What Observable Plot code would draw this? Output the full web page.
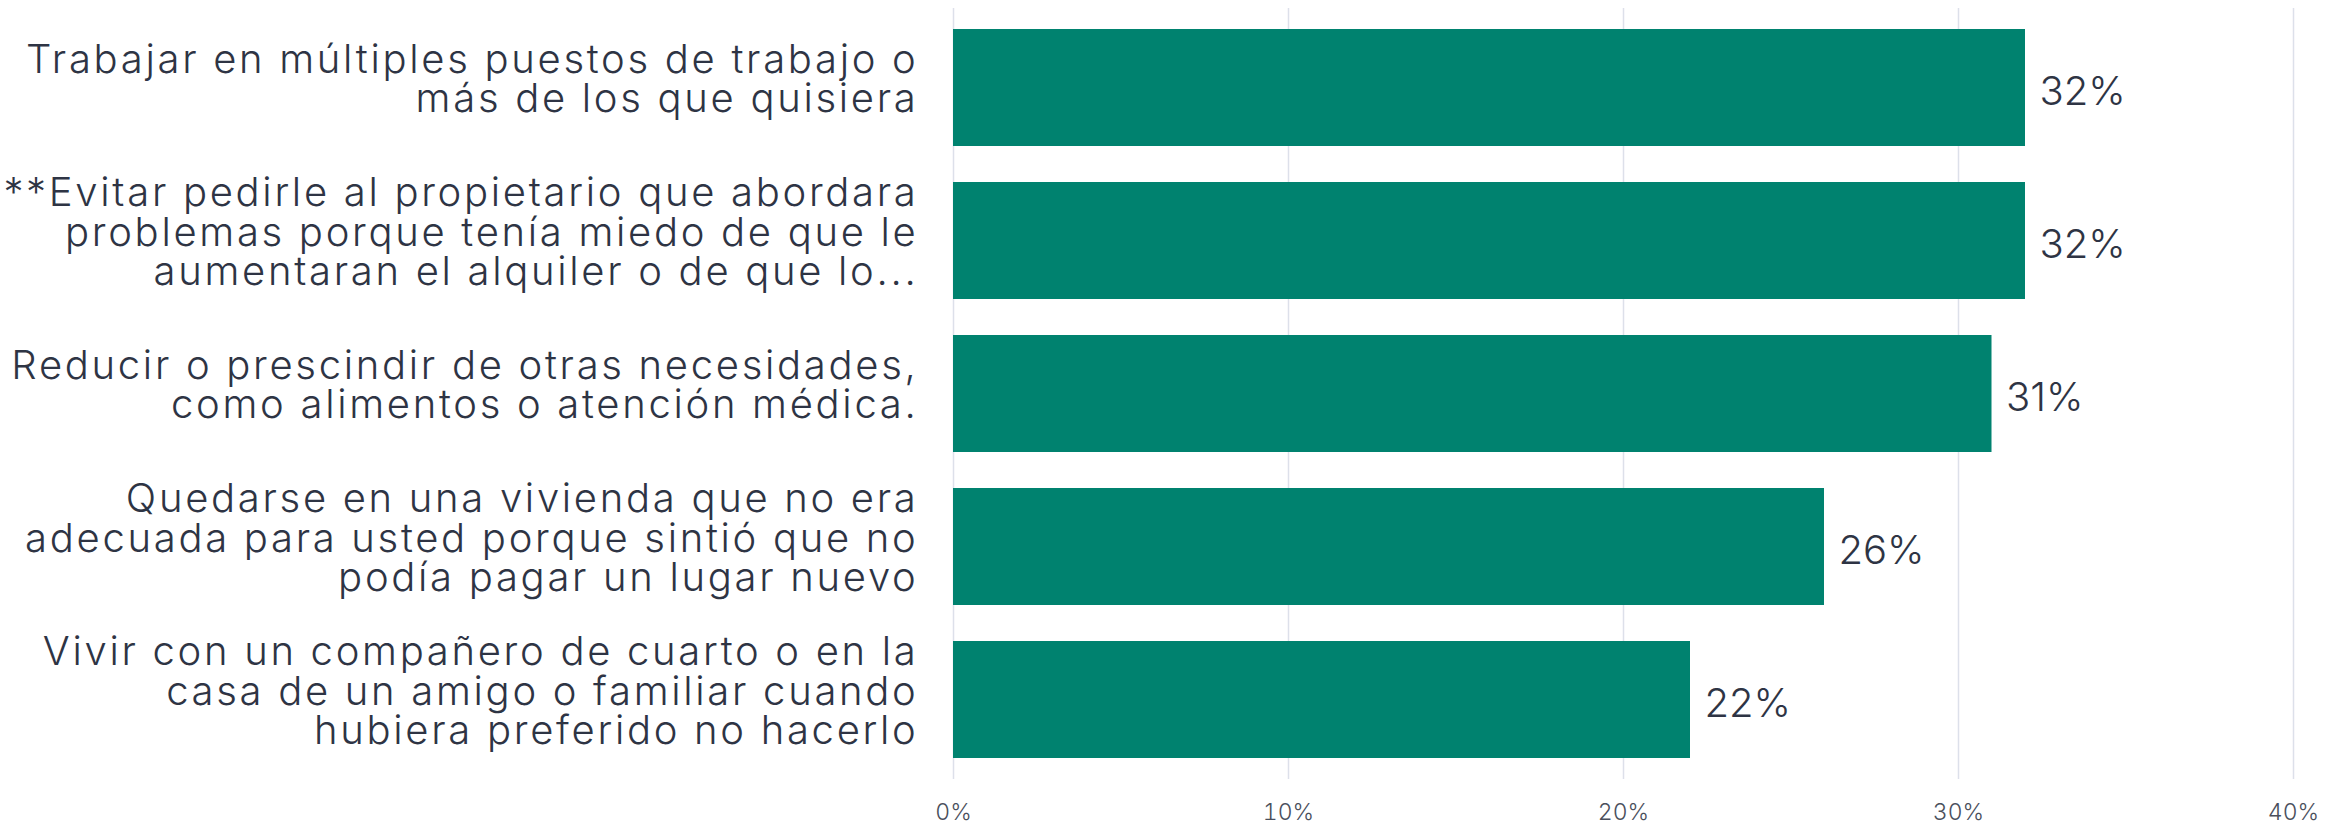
<!DOCTYPE html>
<html><head><meta charset="utf-8">
<script src="https://cdn.jsdelivr.net/npm/d3@7"></script>
<script src="https://cdn.jsdelivr.net/npm/@observablehq/plot@0.6"></script>
<style>body{margin:0;background:#fff}
g[aria-label="y-axis tick label"] text{letter-spacing:2.7px}
</style>
</head><body><div id="chart"></div>
<script>
const categories = [
  "Trabajar en múltiples puestos de trabajo o\nmás de los que quisiera",
  "**Evitar pedirle al propietario que abordara\nproblemas porque tenía miedo de que le\naumentaran el alquiler o de que lo...",
  "Reducir o prescindir de otras necesidades,\ncomo alimentos o atención médica.",
  "Quedarse en una vivienda que no era\nadecuada para usted porque sintió que no\npodía pagar un lugar nuevo",
  "Vivir con un compañero de cuarto o en la\ncasa de un amigo o familiar cuando\nhubiera preferido no hacerlo"
];
const values = [32, 32, 31, 26, 22];
const xTicks = [0, 10, 20, 30, 40];
const data = categories.map((c, i) => ({category: c, value: values[i]}));

const chart = Plot.plot({
  width: 2341, height: 826,
  marginLeft: 953, marginRight: 48, marginTop: 8, marginBottom: 47,
  style: {fontFamily: "Inter", background: "#fff"},
  x: {domain: [0, 40]},
  y: {domain: categories, paddingInner: 0.234, paddingOuter: 0.121},
  marks: [
    Plot.gridX(xTicks, {stroke: "#dde0ea", strokeOpacity: 1, strokeWidth: 1.5}),
    Plot.barX(data, {x: "value", y: "category", fill: "#00826f"}),
    Plot.text(data, {x: "value", y: "category", text: d => d.value + "%", textAnchor: "start", dx: 14, dy: 4, fontSize: 40, fontWeight: 300, fill: "#2e3444"}),
    Plot.axisY({tickSize: 0, tickPadding: 35, fontSize: 40, fontWeight: 300, lineHeight: 0.98, dy: -8, fill: "#2e3444", label: null}),
    Plot.axisX(xTicks, {tickSize: 0, tickPadding: 24, fontSize: 23, fontWeight: 300, tickFormat: d => d + "%", fill: "#4a4f5c", label: null})
  ]
});
document.getElementById("chart").appendChild(chart);
</script>
</body></html>
